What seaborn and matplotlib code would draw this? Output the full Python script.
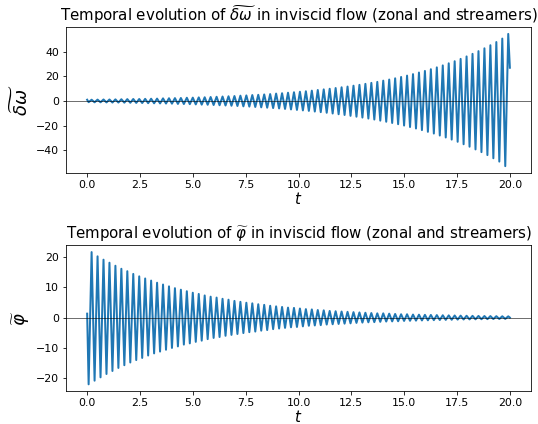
import numpy as np
import pandas as pd
import matplotlib
matplotlib.use("Agg")
import matplotlib.pyplot as plt
import seaborn as sns

# Values
# Extrema of the oscillations: one trough and one peak per cycle (71 cycles on 0..20)
t_start = 0.0
t_end = 20.0
t_first_extremum = 0.07
half_period = 0.1408

# top panel: delta omega tilde (growing)
domega_start = 1.0
domega_end = 27.0
domega_troughs = [
    -1.0, -1.1, -1.1, -1.2, -1.3, -1.3, -1.4, -1.5, -1.6, -1.7,
    -1.8, -1.9, -2.0, -2.1, -2.2, -2.4, -2.5, -2.6, -2.8, -3.0,
    -3.1, -3.3, -3.5, -3.7, -3.9, -4.1, -4.4, -4.6, -4.9, -5.2,
    -5.5, -5.8, -6.1, -6.5, -6.9, -7.3, -7.7, -8.1, -8.6, -9.1,
    -9.6, -10.2, -10.8, -11.4, -12.1, -12.8, -13.5, -14.3, -15.1, -16.0,
    -16.9, -17.9, -18.9, -20.0, -21.2, -22.4, -23.7, -25.1, -26.5, -28.1,
    -29.7, -31.4, -33.2, -35.2, -37.2, -39.4, -41.6, -44.0, -46.6, -49.3,
    -53.0,
]
domega_peaks = [
    1.0, 1.1, 1.2, 1.2, 1.3, 1.4, 1.5, 1.6, 1.6, 1.7,
    1.8, 1.9, 2.1, 2.2, 2.3, 2.4, 2.6, 2.7, 2.9, 3.0,
    3.2, 3.4, 3.6, 3.8, 4.0, 4.3, 4.5, 4.8, 5.0, 5.3,
    5.6, 6.0, 6.3, 6.7, 7.1, 7.5, 7.9, 8.4, 8.9, 9.4,
    9.9, 10.5, 11.1, 11.7, 12.4, 13.1, 13.9, 14.7, 15.5, 16.5,
    17.4, 18.4, 19.5, 20.6, 21.8, 23.1, 24.4, 25.8, 27.3, 28.9,
    30.6, 32.3, 34.2, 36.2, 38.3, 40.5, 42.8, 45.3, 47.9, 50.7,
    54.5,
]

# bottom panel: phi tilde (decaying)
phi_start = 1.3
phi_end = 0.0
phi_troughs = [
    -22.0, -20.8, -19.7, -18.6, -17.6, -16.6, -15.7, -14.8, -14.0, -13.3,
    -12.5, -11.8, -11.2, -10.6, -10.0, -9.5, -8.9, -8.5, -8.0, -7.6,
    -7.1, -6.7, -6.4, -6.0, -5.7, -5.4, -5.1, -4.8, -4.6, -4.3,
    -4.1, -3.8, -3.6, -3.4, -3.2, -3.1, -2.9, -2.7, -2.6, -2.5,
    -2.3, -2.2, -2.1, -2.0, -1.9, -1.75, -1.65, -1.55, -1.5, -1.4,
    -1.3, -1.25, -1.2, -1.1, -1.05, -1.0, -0.94, -0.89, -0.84, -0.79,
    -0.75, -0.71, -0.67, -0.63, -0.6, -0.57, -0.54, -0.51, -0.48, -0.45,
    -0.43,
]
phi_peaks = [
    21.6, 20.2, 19.1, 18.1, 17.1, 16.1, 15.3, 14.4, 13.6, 12.9,
    12.2, 11.5, 10.9, 10.3, 9.7, 9.2, 8.7, 8.2, 7.8, 7.3,
    6.9, 6.6, 6.2, 5.9, 5.5, 5.2, 4.9, 4.7, 4.4, 4.2,
    3.9, 3.7, 3.5, 3.3, 3.2, 3.0, 2.8, 2.7, 2.5, 2.4,
    2.2, 2.1, 2.0, 1.9, 1.8, 1.7, 1.6, 1.5, 1.4, 1.4,
    1.3, 1.2, 1.1, 1.1, 1.0, 0.96, 0.91, 0.87, 0.82, 0.77,
    0.73, 0.69, 0.65, 0.61, 0.58, 0.55, 0.52, 0.5, 0.47, 0.44,
    0.42,
]

xlabel = "$t$"
titles = [
    r"Temporal evolution of $\widetilde{\delta\omega}$ in inviscid flow (zonal and streamers)",
    r"Temporal evolution of $\widetilde{\varphi}$ in inviscid flow (zonal and streamers)",
]
ylabels = [r"$\widetilde{\delta\omega}$", r"$\widetilde{\varphi}$"]


# Build time series: start point, alternating trough/peak, end point
def build_series(start, troughs, peaks, end):
    vals = [start]
    for lo, hi in zip(troughs, peaks):
        vals += [lo, hi]
    vals.append(end)
    n_ext = len(troughs) + len(peaks)
    t_ext = t_first_extremum + half_period * np.arange(n_ext)
    t = np.concatenate([[t_start], t_ext, [t_end]])
    return pd.DataFrame({"t": t, "value": vals})


df_top = build_series(domega_start, domega_troughs, domega_peaks, domega_end)
df_bot = build_series(phi_start, phi_troughs, phi_peaks, phi_end)

fig, axes = plt.subplots(2, 1, figsize=(538 / 72, 424 / 72), dpi=72)
fig.subplots_adjust(left=0.1227, right=0.987, top=0.9356, bottom=0.078, hspace=0.5)

for ax, df, title, ylab in zip(axes, [df_top, df_bot], titles, ylabels):
    sns.lineplot(data=df, x="t", y="value", ax=ax, color="#1f77b4",
                 linewidth=2, estimator=None, sort=False)
    ax.axhline(0, color="k", linewidth=0.8, alpha=0.7)
    ax.set_title(title, fontsize=15)
    ax.set_xlabel(xlabel, fontsize=15, labelpad=1)
    ax.set_ylabel(ylab, fontsize=18)
    ax.set_xticks(np.arange(0, 20.1, 2.5))
    ax.tick_params(labelsize=11)

axes[0].set_yticks([-40, -20, 0, 20, 40])
axes[1].set_yticks([-20, -10, 0, 10, 20])

plt.savefig("out.png", dpi=72)
